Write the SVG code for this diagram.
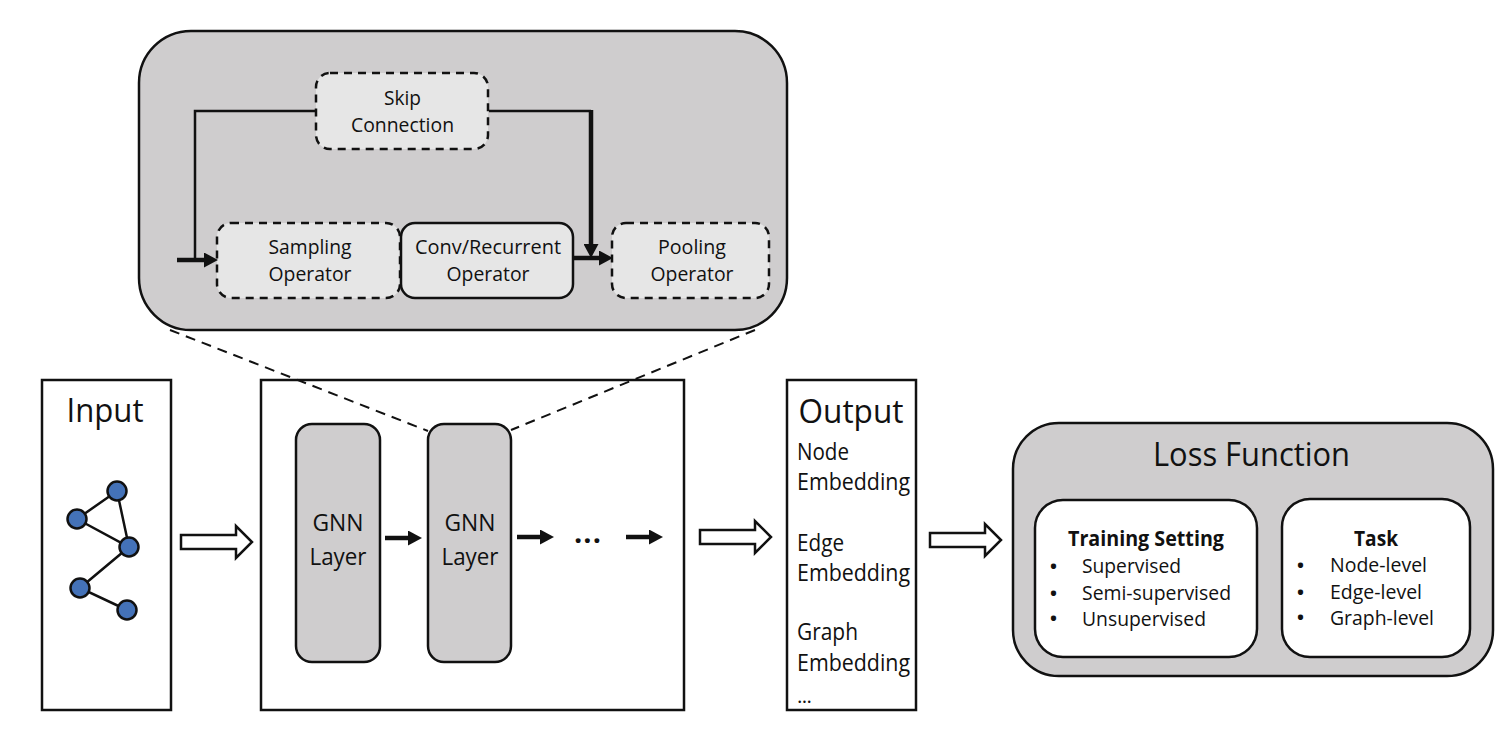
<svg xmlns="http://www.w3.org/2000/svg" width="1500" height="731" viewBox="0 0 1500 731">
<defs>
<style>
text{font-family:"Open Sans","Noto Sans","Liberation Sans",sans-serif;fill:#111;text-anchor:middle}
.s{font-size:20.5px}
.m{font-size:23px}
.l{font-size:32px}
.left{text-anchor:start}
.dot{font-size:18.5px;font-weight:700;text-anchor:start}
.panel{fill:#fff;stroke:#111;stroke-width:2.5}
.gray{fill:#cfcdce;stroke:#111;stroke-width:2.5}
.op{fill:#e6e6e6;stroke:#111;stroke-width:2.5}
.dash{stroke-dasharray:8 6}
.white{fill:#fff;stroke:#111;stroke-width:2.5}
.wire{fill:none;stroke:#111;stroke-width:2.5}
.thick{fill:none;stroke:#111;stroke-width:4.5}
.guide{fill:none;stroke:#111;stroke-width:2;stroke-dasharray:10 7}
.big{fill:#fff;stroke:#111;stroke-width:2.5}
.edge{fill:none;stroke:#111;stroke-width:2.5}
.vertex{fill:#4472b8;stroke:#111;stroke-width:2.5}
</style>
<!-- Head starts where its line stops, so the blunt line end never shows past the tip -->
<marker id="head" markerUnits="userSpaceOnUse" markerWidth="14" markerHeight="15" refX="1" refY="7.500" orient="auto"><path d="M0 0L14 7.500L0 15z" fill="#111"/></marker>
</defs>

<g id="gnn-detail"><rect class="gray" x="139" y="31" width="648" height="299" rx="52"/></g>

<g id="skip"><rect class="op dash" x="316" y="73" width="172" height="76" rx="14"/><text class="s" x="402.500" y="105" textLength="37" lengthAdjust="spacingAndGlyphs">Skip</text><text class="s" x="402.500" y="132" textLength="103" lengthAdjust="spacingAndGlyphs">Connection</text></g>
<g id="sampling"><rect class="op dash" x="217" y="223" width="183" height="75" rx="14"/><text class="s" x="310" y="254" textLength="83" lengthAdjust="spacingAndGlyphs">Sampling</text><text class="s" x="310" y="281" textLength="83" lengthAdjust="spacingAndGlyphs">Operator</text></g>
<g id="conv"><rect class="op" x="401" y="223" width="172" height="75" rx="14"/><text class="s" x="488" y="254" textLength="146" lengthAdjust="spacingAndGlyphs">Conv/Recurrent</text><text class="s" x="488" y="281" textLength="83" lengthAdjust="spacingAndGlyphs">Operator</text></g>
<g id="pooling"><rect class="op dash" x="612" y="223" width="157" height="75" rx="14"/><text class="s" x="692" y="254" textLength="68" lengthAdjust="spacingAndGlyphs">Pooling</text><text class="s" x="692" y="281" textLength="83" lengthAdjust="spacingAndGlyphs">Operator</text></g>

<g id="input"><rect class="panel" x="42" y="380" width="129" height="330"/><text class="l" x="105" y="422" textLength="77" lengthAdjust="spacingAndGlyphs">Input</text>
<path class="edge" d="M77 519L117 491L129 547L77 519M129 547L80 588L127 610"/>
<circle class="vertex" cx="117" cy="491" r="9.500"/><circle class="vertex" cx="77" cy="519" r="9.500"/><circle class="vertex" cx="129" cy="547" r="9.500"/><circle class="vertex" cx="80" cy="588" r="9.500"/><circle class="vertex" cx="127" cy="610" r="9.500"/></g>

<g id="layers"><rect class="panel" x="261" y="380" width="423" height="330"/></g>
<g id="layer-1"><rect class="gray" x="296" y="424" width="84" height="238" rx="16"/><text class="m" x="338" y="531" textLength="51" lengthAdjust="spacingAndGlyphs">GNN</text><text class="m" x="338" y="565" textLength="57" lengthAdjust="spacingAndGlyphs">Layer</text></g>
<g id="layer-2"><rect class="gray" x="428" y="424" width="83" height="238" rx="16"/><text class="m" x="470" y="531" textLength="51" lengthAdjust="spacingAndGlyphs">GNN</text><text class="m" x="470" y="565" textLength="57" lengthAdjust="spacingAndGlyphs">Layer</text></g>
<text x="587.500" y="543" font-size="29" font-weight="700" textLength="27" lengthAdjust="spacing">...</text>

<g id="output"><rect class="panel" x="787" y="380" width="129" height="330"/><text class="l" x="851" y="423" textLength="105" lengthAdjust="spacingAndGlyphs">Output</text>
<text class="m left" x="797" y="460" textLength="52" lengthAdjust="spacingAndGlyphs">Node</text><text class="m left" x="797" y="490" textLength="113" lengthAdjust="spacingAndGlyphs">Embedding</text>
<text class="m left" x="797" y="551" textLength="47" lengthAdjust="spacingAndGlyphs">Edge</text><text class="m left" x="797" y="581" textLength="113" lengthAdjust="spacingAndGlyphs">Embedding</text>
<text class="m left" x="797" y="640" textLength="61" lengthAdjust="spacingAndGlyphs">Graph</text><text class="m left" x="797" y="671" textLength="113" lengthAdjust="spacingAndGlyphs">Embedding</text>
<text class="s left" x="797" y="703" textLength="15">...</text></g>

<g id="loss"><rect class="gray" x="1013" y="423" width="480" height="253" rx="46"/><text class="l" x="1251.500" y="466" textLength="197" lengthAdjust="spacingAndGlyphs">Loss Function</text></g>
<g id="training"><rect class="white" x="1035" y="500" width="222" height="157" rx="28"/><text class="s" x="1146" y="546" font-weight="700" textLength="156" lengthAdjust="spacingAndGlyphs">Training Setting</text>
<text class="dot" x="1050" y="573">•</text><text class="s left" x="1082" y="573" textLength="99" lengthAdjust="spacingAndGlyphs">Supervised</text>
<text class="dot" x="1050" y="600">•</text><text class="s left" x="1082" y="600" textLength="149" lengthAdjust="spacingAndGlyphs">Semi-supervised</text>
<text class="dot" x="1050" y="625">•</text><text class="s left" x="1082" y="626" textLength="124" lengthAdjust="spacingAndGlyphs">Unsupervised</text></g>
<g id="task"><rect class="white" x="1282" y="499" width="188" height="158" rx="28"/><text class="s" x="1376" y="546" font-weight="700" textLength="44" lengthAdjust="spacingAndGlyphs">Task</text>
<text class="dot" x="1297" y="572">•</text><text class="s left" x="1330" y="572" textLength="97" lengthAdjust="spacingAndGlyphs">Node-level</text>
<text class="dot" x="1297" y="599">•</text><text class="s left" x="1330" y="599" textLength="92" lengthAdjust="spacingAndGlyphs">Edge-level</text>
<text class="dot" x="1297" y="624">•</text><text class="s left" x="1330" y="625" textLength="104" lengthAdjust="spacingAndGlyphs">Graph-level</text></g>

<g id="connectors">
<path class="guide" d="M170 330L428 431"/>
<path class="guide" d="M755 330L511 430"/>
<path class="wire" d="M316 111H195V260"/>
<path class="wire" d="M489 111H591"/>
<path class="thick" d="M591 110V245" marker-end="url(#head)"/>
<path class="thick" d="M177 260H205" marker-end="url(#head)"/>
<path class="thick" d="M573 258H600" marker-end="url(#head)"/>
<path class="thick" d="M385 538H409" marker-end="url(#head)"/>
<path class="thick" d="M517 537H541" marker-end="url(#head)"/>
<path class="thick" d="M626 537H650" marker-end="url(#head)"/>
<path class="big" d="M181 535H236V526L252 542L236 558V549H181z"/>
<path class="big" d="M700 530H755V521L771 537L755 553V544H700z"/>
<path class="big" d="M930 533H985V524L1001 540L985 556V547H930z"/>
</g>
</svg>
